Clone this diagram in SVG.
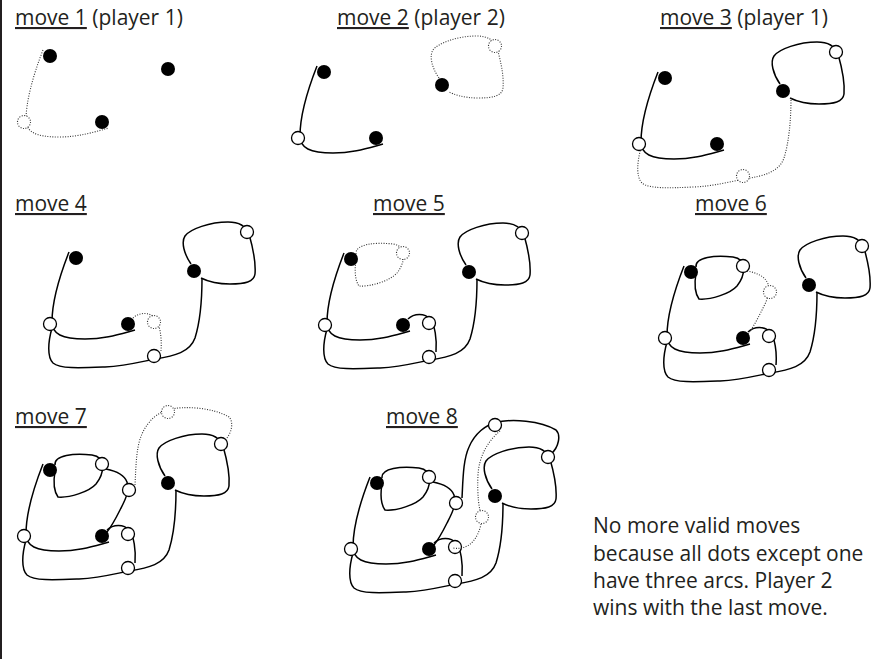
<svg xmlns="http://www.w3.org/2000/svg" xmlns:xlink="http://www.w3.org/1999/xlink" width="880" height="659" viewBox="0 0 880 659">
<style>
.s{fill:none;stroke:#000;stroke-width:1.5}
.d{fill:none;stroke:#333;stroke-width:1.1;stroke-dasharray:1 1.5}
.dot{fill:#000}
.o{fill:#fff;stroke:#000;stroke-width:1.3}
.od{fill:#fff;stroke:#333;stroke-width:1.1;stroke-dasharray:1 1.5}
text{font-family:"Open Sans","Noto Sans",sans-serif;font-size:21px;fill:#231f20}
</style>
<defs>
<path id="m1" d="M69,252 C58,280 52,305 52,322 C52,334 62,339 85,339 C105,339 120,334 135,330"/>
<path id="m2" d="M191,264 C184,254 181,242 185,236 C190,229 210,222 228,222 C240,222 246,226 249,234 C253,248 256,262 255,274 C254,282 245,284 230,284 C215,284 205,280 201,278"/>
<path id="m3" d="M52,328 C48,342 47,357 53,363 C60,369 80,368 105,367 C125,366 140,362 155,359 C175,356 190,352 195,338 C200,322 202,300 202,278"/>
<path id="m4" d="M133,318 C139,312 150,312 155,318 C160,324 162,338 161,351"/>
<path id="m5" d="M81,253 C80,243 100,241 118,243 C133,245 130,262 122,272 C115,280 95,286 84,285 C79,278 80,265 81,259"/>
<path id="m6" d="M132,257 C142,259 150,262 153,270 C156,280 150,290 146,298 C141,308 137,315 133,320"/>
<path id="m7" d="M161,273 C162,255 162,235 168,222 C174,208 185,200 194,198 C210,193 240,196 255,205 C260,210 258,222 250,229"/>
<path id="m8" d="M199,206 C188,215 178,230 177,250 C176,270 178,285 181,292 C180,305 175,315 168,320 C163,323 158,324 152,323"/>
</defs>
<rect x="0" y="0" width="2" height="659" fill="#231f20"/>

<text x="15" y="25"><tspan text-decoration="underline">move 1</tspan> (player 1)</text>
<text x="337" y="25"><tspan text-decoration="underline">move 2</tspan> (player 2)</text>
<text x="660" y="25"><tspan text-decoration="underline">move 3</tspan> (player 1)</text>
<text x="15" y="211" text-decoration="underline">move 4</text>
<text x="373" y="211" text-decoration="underline">move 5</text>
<text x="695" y="211" text-decoration="underline">move 6</text>
<text x="15" y="424" text-decoration="underline">move 7</text>
<text x="386" y="424" text-decoration="underline">move 8</text>
<text x="593" y="533">No more valid moves</text>
<text x="593" y="561">because all dots except one</text>
<text x="593" y="588">have three arcs. Player 2</text>
<text x="593" y="615">wins with the last move.</text>

<!-- move 1 -->
<g transform="translate(-26,-202)">
<g id="p1-arcs"><use xlink:href="#m1" class="d"/></g>
<g id="p1-n1"><circle class="od" cx="50" cy="324" r="6.5"/></g>
<g id="p1-A"><circle class="dot" cx="76" cy="258" r="7"/></g>
<g id="p1-B"><circle class="dot" cx="194" cy="271" r="7"/></g>
<g id="p1-C"><circle class="dot" cx="128" cy="324" r="7"/></g>
</g>

<!-- move 2 -->
<g transform="translate(248,-186)">
<g id="p2-arcs"><use xlink:href="#m1" class="s"/><use xlink:href="#m2" class="d"/></g>
<g id="p2-n1"><circle class="o" cx="50" cy="324" r="6.5"/></g>
<g id="p2-n2"><circle class="od" cx="247" cy="232" r="6.5"/></g>
<g id="p2-A"><circle class="dot" cx="76" cy="258" r="7"/></g>
<g id="p2-B"><circle class="dot" cx="194" cy="271" r="7"/></g>
<g id="p2-C"><circle class="dot" cx="128" cy="324" r="7"/></g>
</g>

<!-- move 3 -->
<g transform="translate(589,-180)">
<g id="p3-arcs"><use xlink:href="#m1" class="s"/><use xlink:href="#m2" class="s"/><use xlink:href="#m3" class="d"/></g>
<g id="p3-n1"><circle class="o" cx="50" cy="324" r="6.5"/></g>
<g id="p3-n2"><circle class="o" cx="247" cy="232" r="6.5"/></g>
<g id="p3-n3"><circle class="od" cx="154" cy="356" r="6.5"/></g>
<g id="p3-A"><circle class="dot" cx="76" cy="258" r="7"/></g>
<g id="p3-B"><circle class="dot" cx="194" cy="271" r="7"/></g>
<g id="p3-C"><circle class="dot" cx="128" cy="324" r="7"/></g>
</g>

<!-- move 4 -->
<g transform="translate(0,0)">
<g id="p4-arcs"><use xlink:href="#m1" class="s"/><use xlink:href="#m2" class="s"/><use xlink:href="#m3" class="s"/><use xlink:href="#m4" class="d"/></g>
<g id="p4-n1"><circle class="o" cx="50" cy="324" r="6.5"/></g>
<g id="p4-n2"><circle class="o" cx="247" cy="232" r="6.5"/></g>
<g id="p4-n3"><circle class="o" cx="154" cy="356" r="6.5"/></g>
<g id="p4-n4"><circle class="od" cx="154" cy="322" r="6.5"/></g>
<g id="p4-A"><circle class="dot" cx="76" cy="258" r="7"/></g>
<g id="p4-B"><circle class="dot" cx="194" cy="271" r="7"/></g>
<g id="p4-C"><circle class="dot" cx="128" cy="324" r="7"/></g>
</g>

<!-- move 5 -->
<g transform="translate(275,1)">
<g id="p5-arcs"><use xlink:href="#m1" class="s"/><use xlink:href="#m2" class="s"/><use xlink:href="#m3" class="s"/><use xlink:href="#m4" class="s"/><use xlink:href="#m5" class="d"/></g>
<g id="p5-n1"><circle class="o" cx="50" cy="324" r="6.5"/></g>
<g id="p5-n2"><circle class="o" cx="247" cy="232" r="6.5"/></g>
<g id="p5-n3"><circle class="o" cx="154" cy="356" r="6.5"/></g>
<g id="p5-n4"><circle class="o" cx="154" cy="322" r="6.5"/></g>
<g id="p5-n5"><circle class="od" cx="128" cy="252" r="6.5"/></g>
<g id="p5-A"><circle class="dot" cx="76" cy="258" r="7"/></g>
<g id="p5-B"><circle class="dot" cx="194" cy="271" r="7"/></g>
<g id="p5-C"><circle class="dot" cx="128" cy="324" r="7"/></g>
</g>

<!-- move 6 -->
<g transform="translate(615,14)">
<g id="p6-arcs"><use xlink:href="#m1" class="s"/><use xlink:href="#m2" class="s"/><use xlink:href="#m3" class="s"/><use xlink:href="#m4" class="s"/><use xlink:href="#m5" class="s"/><use xlink:href="#m6" class="d"/></g>
<g id="p6-n1"><circle class="o" cx="50" cy="324" r="6.5"/></g>
<g id="p6-n2"><circle class="o" cx="247" cy="232" r="6.5"/></g>
<g id="p6-n3"><circle class="o" cx="154" cy="356" r="6.5"/></g>
<g id="p6-n4"><circle class="o" cx="154" cy="322" r="6.5"/></g>
<g id="p6-n5"><circle class="o" cx="128" cy="252" r="6.5"/></g>
<g id="p6-n6"><circle class="od" cx="155" cy="278" r="6.5"/></g>
<g id="p6-A"><circle class="dot" cx="76" cy="258" r="7"/></g>
<g id="p6-B"><circle class="dot" cx="194" cy="271" r="7"/></g>
<g id="p6-C"><circle class="dot" cx="128" cy="324" r="7"/></g>
</g>

<!-- move 7 -->
<g transform="translate(-26,212)">
<g id="p7-arcs"><use xlink:href="#m1" class="s"/><use xlink:href="#m2" class="s"/><use xlink:href="#m3" class="s"/><use xlink:href="#m4" class="s"/><use xlink:href="#m5" class="s"/><use xlink:href="#m6" class="s"/><use xlink:href="#m7" class="d"/></g>
<g id="p7-n1"><circle class="o" cx="50" cy="324" r="6.5"/></g>
<g id="p7-n2"><circle class="o" cx="247" cy="232" r="6.5"/></g>
<g id="p7-n3"><circle class="o" cx="154" cy="356" r="6.5"/></g>
<g id="p7-n4"><circle class="o" cx="154" cy="322" r="6.5"/></g>
<g id="p7-n5"><circle class="o" cx="128" cy="252" r="6.5"/></g>
<g id="p7-n6"><circle class="o" cx="155" cy="278" r="6.5"/></g>
<g id="p7-n7"><circle class="od" cx="194" cy="200" r="6.5"/></g>
<g id="p7-A"><circle class="dot" cx="76" cy="258" r="7"/></g>
<g id="p7-B"><circle class="dot" cx="194" cy="271" r="7"/></g>
<g id="p7-C"><circle class="dot" cx="128" cy="324" r="7"/></g>
</g>

<!-- move 8 -->
<g transform="translate(301,225)">
<g id="p8-arcs"><use xlink:href="#m1" class="s"/><use xlink:href="#m2" class="s"/><use xlink:href="#m3" class="s"/><use xlink:href="#m4" class="s"/><use xlink:href="#m5" class="s"/><use xlink:href="#m6" class="s"/><use xlink:href="#m7" class="s"/></g>
<g id="p8-n1"><circle class="o" cx="50" cy="324" r="6.5"/></g>
<g id="p8-n2"><circle class="o" cx="247" cy="232" r="6.5"/></g>
<g id="p8-n3"><circle class="o" cx="154" cy="356" r="6.5"/></g>
<g id="p8-n4"><circle class="o" cx="154" cy="322" r="6.5"/></g>
<g id="p8-n5"><circle class="o" cx="128" cy="252" r="6.5"/></g>
<g id="p8-n6"><circle class="o" cx="155" cy="278" r="6.5"/></g>
<g id="p8-n7"><circle class="o" cx="194" cy="200" r="6.5"/></g>
<g id="p8-arcs-new"><use xlink:href="#m8" class="d"/></g>
<g id="p8-n8"><circle class="od" cx="181" cy="292" r="6.5"/></g>
<g id="p8-A"><circle class="dot" cx="76" cy="258" r="7"/></g>
<g id="p8-B"><circle class="dot" cx="194" cy="271" r="7"/></g>
<g id="p8-C"><circle class="dot" cx="128" cy="324" r="7"/></g>
</g>
</svg>
